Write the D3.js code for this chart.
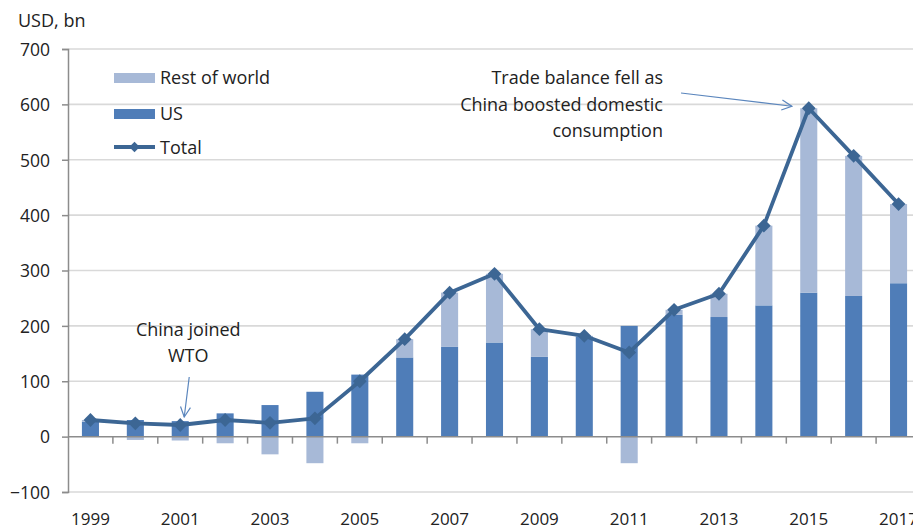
<!DOCTYPE html>
<html>
<head>
<meta charset="utf-8">
<script src="https://cdn.jsdelivr.net/npm/d3@7/dist/d3.min.js"></script>
<style>
  html, body { margin: 0; padding: 0; background: #fff; }
  svg { display: block; }
  text { font-family: "Open Sans", Lato, sans-serif; fill: #222; }
</style>
</head>
<body>
<svg id="chart" width="913" height="530"></svg>
<script>
// China's trade surplus by partner, USD bn
const years = d3.range(1999, 2018);
const usValues   = [27, 30, 28, 42, 57, 81, 112, 143, 162, 170, 144, 181, 200, 220, 216, 237, 260, 254, 277];
const restValues = [3, -6, -7, -12, -32, -48, -12, 33, 98, 124, 50, 1, -48, 9, 42, 144, 333, 253, 143];
const totalValues = [30, 24, 21, 30, 25, 33, 100, 176, 260, 294, 194, 182, 152, 229, 258, 381, 593, 507, 420];
const yTicks = [-100, 0, 100, 200, 300, 400, 500, 600, 700];
const xTickLabels = years.filter(y => y % 2 === 1);

const colUS = "#4f7db8";
const colRest = "#a7b9d7";
const colTotal = "#3c6694";
const colArrow = "#5b86bd";

const svg = d3.select("#chart");

const x = d3.scaleBand()
  .domain(years)
  .range([68, 921])
  .paddingInner(0.62)
  .paddingOuter(0.31);

const y = d3.scaleLinear().domain([-100, 700]).range([492, 49]);

const cx = d => x(d) + x.bandwidth() / 2;

// gridlines
svg.append("g")
  .selectAll("line")
  .data(yTicks.filter(t => t !== 0))
  .join("line")
  .attr("x1", 68).attr("x2", 913)
  .attr("y1", d => y(d)).attr("y2", d => y(d))
  .attr("stroke", "#d9d9d9").attr("stroke-width", 1.6);

// y axis
const yAxis = d3.axisLeft(y).tickValues(yTicks).tickSize(6).tickPadding(12);
const gy = svg.append("g").attr("transform", "translate(68,0)").call(yAxis);
gy.select(".domain").attr("stroke", "#8c8c8c").attr("stroke-width", 1.5);
gy.selectAll(".tick line").attr("stroke", "#8c8c8c").attr("stroke-width", 1.5);
gy.selectAll(".tick text")
  .style("font-size", "17.5px").style("font-family", "'Open Sans', sans-serif")
  .attr("fill", "#222").attr("dy", "0.36em");

svg.append("text")
  .attr("x", 18).attr("y", 27)
  .style("font-size", "18px")
  .text("USD, bn");

// stacked bars (positive and negative parts stack away from zero)
const bars = svg.append("g");
years.forEach((yr, i) => {
  const us = usValues[i], rest = restValues[i];
  bars.append("rect")
    .attr("x", x(yr)).attr("width", x.bandwidth())
    .attr("y", y(Math.max(us, 0))).attr("height", Math.abs(y(us) - y(0)))
    .attr("fill", colUS);
  const base = rest >= 0 ? Math.max(us, 0) : Math.min(us, 0);
  bars.append("rect")
    .attr("x", x(yr)).attr("width", x.bandwidth())
    .attr("y", y(Math.max(base, base + rest)))
    .attr("height", Math.abs(y(base + rest) - y(base)))
    .attr("fill", colRest);
});

// category axis along zero with boundary ticks
svg.append("line")
  .attr("x1", 68).attr("x2", 913)
  .attr("y1", y(0)).attr("y2", y(0))
  .attr("stroke", "#8c8c8c").attr("stroke-width", 1.5);
svg.append("g")
  .selectAll("line")
  .data(years.slice(1))
  .join("line")
  .attr("x1", d => x(d) - x.step() * x.paddingInner() / 2)
  .attr("x2", d => x(d) - x.step() * x.paddingInner() / 2)
  .attr("y1", y(0)).attr("y2", y(0) + 7)
  .attr("stroke", "#8c8c8c").attr("stroke-width", 1.5);

svg.append("g")
  .selectAll("text")
  .data(xTickLabels)
  .join("text")
  .attr("x", d => cx(d))
  .attr("y", 525)
  .attr("text-anchor", "middle")
  .style("font-size", "17px")
  .text(d => d);

// total line with diamond markers
const line = d3.line().x((d, i) => cx(years[i])).y(d => y(d));
svg.append("path")
  .datum(totalValues)
  .attr("d", line)
  .attr("fill", "none")
  .attr("stroke", colTotal)
  .attr("stroke-width", 3.8)
  .attr("stroke-linejoin", "round");

const diamond = d3.symbol().type(d3.symbolSquare).size(95);
svg.append("g")
  .selectAll("path")
  .data(totalValues)
  .join("path")
  .attr("d", diamond)
  .attr("transform", (d, i) => `translate(${cx(years[i])},${y(d)}) rotate(45)`)
  .attr("fill", colTotal);

// legend
const legend = svg.append("g").attr("transform", "translate(114,0)");
legend.append("rect").attr("x", 0).attr("y", 73).attr("width", 41).attr("height", 10).attr("fill", colRest);
legend.append("text").attr("x", 46).attr("y", 84).style("font-size", "18px").text("Rest of world");
legend.append("rect").attr("x", 0).attr("y", 109).attr("width", 41).attr("height", 10).attr("fill", colUS);
legend.append("text").attr("x", 46).attr("y", 120).style("font-size", "18px").text("US");
legend.append("line").attr("x1", 0).attr("x2", 41).attr("y1", 147).attr("y2", 147)
  .attr("stroke", colTotal).attr("stroke-width", 3.8);
legend.append("path").attr("d", d3.symbol().type(d3.symbolSquare).size(55))
  .attr("transform", "translate(20.5,147) rotate(45)").attr("fill", colTotal);
legend.append("text").attr("x", 46).attr("y", 154).style("font-size", "18px").text("Total");

// annotations
const defs = svg.append("defs");
defs.append("marker")
  .attr("id", "arrowhead")
  .attr("viewBox", "0 0 12 12")
  .attr("refX", 11).attr("refY", 6)
  .attr("markerWidth", 12).attr("markerHeight", 12)
  .attr("markerUnits", "userSpaceOnUse")
  .attr("orient", "auto")
  .append("path")
  .attr("d", "M1,1 L11,6 L1,11")
  .attr("fill", "none")
  .attr("stroke", colArrow)
  .attr("stroke-width", 1.2);

const wtoX = cx(2001), wtoY = y(totalValues[years.indexOf(2001)]);
svg.append("text").attr("x", wtoX + 8).attr("y", 336).attr("text-anchor", "middle")
  .style("font-size", "18px").text("China joined");
svg.append("text").attr("x", wtoX + 8).attr("y", 362).attr("text-anchor", "middle")
  .style("font-size", "18px").text("WTO");
svg.append("line")
  .attr("x1", wtoX + 9).attr("y1", 377)
  .attr("x2", wtoX + 4).attr("y2", wtoY - 8)
  .attr("stroke", colArrow).attr("stroke-width", 1.2)
  .attr("marker-end", "url(#arrowhead)");

const peakX = cx(2015), peakY = y(totalValues[years.indexOf(2015)]);
const note = ["Trade balance fell as", "China boosted domestic", "consumption"];
svg.append("g")
  .selectAll("text")
  .data(note)
  .join("text")
  .attr("x", 663)
  .attr("y", (d, i) => 84 + i * 26.5)
  .attr("text-anchor", "end")
  .style("font-size", "18px")
  .text(d => d);
svg.append("line")
  .attr("x1", 681).attr("y1", 93)
  .attr("x2", peakX - 17).attr("y2", peakY - 2)
  .attr("stroke", colArrow).attr("stroke-width", 1.2)
  .attr("marker-end", "url(#arrowhead)");
</script>
</body>
</html>
